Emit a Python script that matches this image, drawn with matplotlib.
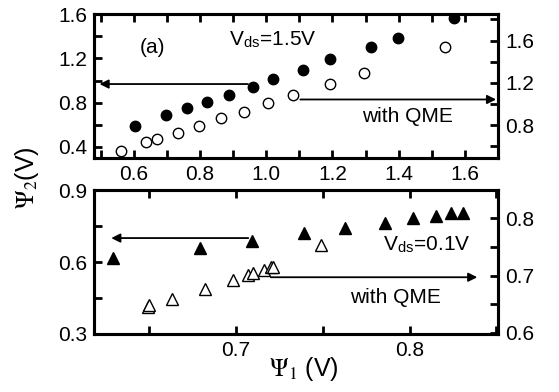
import matplotlib
matplotlib.use('Agg')
import matplotlib.pyplot as plt
from matplotlib.ticker import MultipleLocator

plt.rcParams['font.family'] = ['Liberation Sans', 'DejaVu Sans']
plt.rcParams['mathtext.fontset'] = 'stix'
plt.rcParams['font.size'] = 15

# top panel, Vds = 1.5 V
top_filled_x = [0.603, 0.697, 0.761, 0.821, 0.888, 0.961, 1.021, 1.112, 1.194, 1.315, 1.397, 1.567]
top_filled_y = [0.589, 0.688, 0.752, 0.806, 0.869, 0.941, 1.013, 1.095, 1.194, 1.302, 1.383, 1.564]
top_open_x = [0.561, 0.636, 0.670, 0.733, 0.797, 0.864, 0.933, 1.006, 1.082, 1.194, 1.294, 1.539]
top_open_y = [0.553, 0.638, 0.666, 0.723, 0.789, 0.864, 0.921, 1.006, 1.081, 1.194, 1.289, 1.543]

# bottom panel, Vds = 0.1 V
bot_filled_x = [0.629, 0.679, 0.709, 0.739, 0.763, 0.786, 0.802, 0.815, 0.824, 0.831]
bot_filled_y = [0.617, 0.658, 0.688, 0.721, 0.742, 0.763, 0.783, 0.792, 0.804, 0.804]
bot_open_x = [0.649, 0.650, 0.663, 0.682, 0.698, 0.707, 0.710, 0.716, 0.720, 0.721, 0.749]
bot_open_y = [0.645, 0.649, 0.659, 0.677, 0.692, 0.701, 0.704, 0.710, 0.715, 0.715, 0.753]

fig = plt.figure(figsize=(5.59, 3.92), dpi=100)
ax1 = fig.add_axes([0.168, 0.597, 0.723, 0.367])
ax2 = fig.add_axes([0.168, 0.148, 0.723, 0.367])
ax1r = ax1.twinx()
ax2r = ax2.twinx()


def style(ax):
    for s in ax.spines.values():
        s.set_linewidth(2.2)
    ax.tick_params(which='both', direction='in', width=2, length=6, top=True)
    ax.tick_params(which='major', pad=5)


for a in (ax1, ax1r, ax2, ax2r):
    style(a)

arrow = dict(arrowstyle='-|>', color='black', lw=1.3, mutation_scale=13, shrinkA=0, shrinkB=0)

# top panel
ax1.plot(top_filled_x, top_filled_y, 'o', color='black', ms=7.5, mec='black')
ax1r.plot(top_open_x, top_open_y, 'o', mfc='white', mec='black', ms=7.5, mew=1)
ax1.set_xlim(0.48, 1.70)
ax1.set_ylim(0.3, 1.6)
ax1r.set_ylim(0.49, 1.85)
ax1.xaxis.set_major_locator(MultipleLocator(0.2))
ax1.xaxis.set_minor_locator(MultipleLocator(0.1))
ax1.yaxis.set_minor_locator(MultipleLocator(0.2))
ax1r.yaxis.set_minor_locator(MultipleLocator(0.2))
ax1.set_yticks([0.4, 0.8, 1.2, 1.6])
ax1r.set_yticks([0.8, 1.2, 1.6])
ax1.annotate('', xy=(0.497, 0.968), xytext=(0.945, 0.968), arrowprops=arrow)
ax1r.annotate('', xy=(1.694, 1.043), xytext=(1.103, 1.043), arrowprops=arrow)
ax1.text(0.144, 0.77, '(a)', transform=ax1.transAxes, ha='center', va='center')
ax1.text(0.335, 0.82, r'V$_{\mathregular{ds}}$=1.5V', transform=ax1.transAxes, va='center')
ax1.text(0.663, 0.285, 'with QME', transform=ax1.transAxes, va='center')

# bottom panel
ax2.plot(bot_filled_x, bot_filled_y, '^', color='black', ms=9)
ax2r.plot(bot_open_x, bot_open_y, '^', mfc='white', mec='black', ms=9, mew=1)
ax2.set_xlim(0.618, 0.851)
ax2.set_ylim(0.3, 0.9)
ax2r.set_ylim(0.598, 0.849)
ax2.xaxis.set_major_locator(MultipleLocator(0.1))
ax2.xaxis.set_minor_locator(MultipleLocator(0.05))
ax2.yaxis.set_major_locator(MultipleLocator(0.3))
ax2.yaxis.set_minor_locator(MultipleLocator(0.15))
ax2r.yaxis.set_major_locator(MultipleLocator(0.1))
ax2r.yaxis.set_minor_locator(MultipleLocator(0.05))
ax2.annotate('', xy=(0.628, 0.70), xytext=(0.707, 0.70), arrowprops=arrow)
ax2r.annotate('', xy=(0.839, 0.697), xytext=(0.72, 0.697), arrowprops=arrow)
ax2.text(0.715, 0.618, r'V$_{\mathregular{ds}}$=0.1V', transform=ax2.transAxes, va='center')
ax2.text(0.634, 0.257, 'with QME', transform=ax2.transAxes, va='center')

fig.text(0.048, 0.548, r'$\Psi_2$(V)', rotation=90, ha='center', va='center', fontsize=18)
fig.text(0.543, 0.058, r'$\Psi_1$ (V)', ha='center', va='center', fontsize=18)

fig.savefig('out.png', dpi=100)
